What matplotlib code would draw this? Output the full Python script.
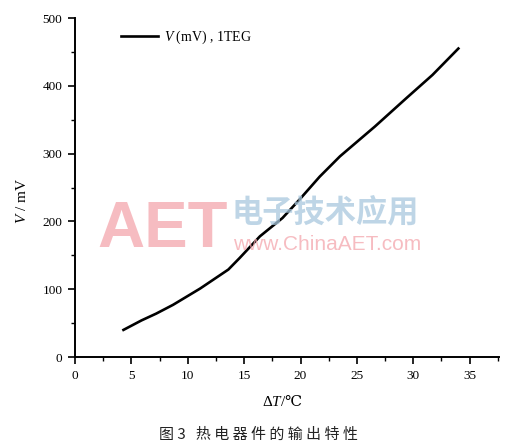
import matplotlib
matplotlib.use('Agg')
import matplotlib.pyplot as plt
from matplotlib.ticker import MultipleLocator

plt.rcParams['font.family'] = ['Liberation Serif', 'DejaVu Serif', 'Noto Sans CJK SC']
plt.rcParams['mathtext.fontset'] = 'custom'
plt.rcParams['mathtext.rm'] = 'Liberation Serif'
plt.rcParams['mathtext.it'] = 'Liberation Serif:italic'
plt.rcParams['mathtext.sf'] = 'DejaVu Serif'

# temperature difference (C) and output voltage (mV)
delta_t = [4.3, 5.9, 7.2, 8.7, 11.1, 13.6, 14.6, 16.4, 18.4, 19.9, 21.7, 23.5, 26.6, 29.4, 31.7, 34.0]
voltage = [40, 54, 64, 77, 101, 129, 146, 178, 205, 232, 266, 296, 340, 382, 416, 455]

x_ticks = [0, 5, 10, 15, 20, 25, 30, 35]
y_ticks = [0, 100, 200, 300, 400, 500]

fig = plt.figure(figsize=(5.16, 4.47), dpi=100)
ax = fig.add_axes([0.1453, 0.2013, 0.8217, 0.7584])

ax.plot(delta_t, voltage, color='black', linewidth=1.9, label=r'$V$ (mV) , 1TEG')

ax.set_xlim(0, 37.6)
ax.set_ylim(0, 500)
ax.set_xticks(x_ticks)
ax.set_yticks(y_ticks)
ax.xaxis.set_minor_locator(MultipleLocator(2.5))
ax.yaxis.set_minor_locator(MultipleLocator(50))
ax.tick_params(which='major', direction='out', length=5, width=1.2, labelsize=9.5, pad=4)
ax.tick_params(which='minor', direction='out', length=3, width=1.0)
for s in ['top', 'right']:
    ax.spines[s].set_visible(False)
for s in ['left', 'bottom']:
    ax.spines[s].set_linewidth(1.4)

ax.set_xlabel(r'$\Delta T$/$\mathsf{℃}$', fontsize=11)
ax.xaxis.set_label_coords(0.488, -0.107)
ax.set_ylabel(r'$V$ / mV', fontsize=11)
ax.yaxis.set_label_coords(-0.108, 0.46)

ax.legend(loc='upper left', bbox_to_anchor=(0.08, 1.005), frameon=False, fontsize=10,
          handlelength=2.6, handletextpad=0.5)

# watermark
fig.text(0.188, 0.447, 'AET', fontsize=47, fontweight='bold', family='Liberation Sans',
         color='#f4a6ad', alpha=0.75, ha='left', va='baseline')
fig.text(0.449, 0.5246, '电子技术应用', fontsize=22.5, fontweight='bold', family='Noto Sans CJK SC',
         color='#a9c8de', alpha=0.75, ha='left', va='center')
fig.text(0.451, 0.4407, 'www.ChinaAET.com', fontsize=15, family='Liberation Sans',
         color='#f4a6ad', alpha=0.75, ha='left', va='baseline')

fig.text(0.5, 0.027, '图 3   热 电 器 件 的 输 出 特 性', fontsize=10.8, family='Noto Sans CJK SC',
         color='#222222', ha='center', va='center')

fig.savefig('out.png', dpi=100)
